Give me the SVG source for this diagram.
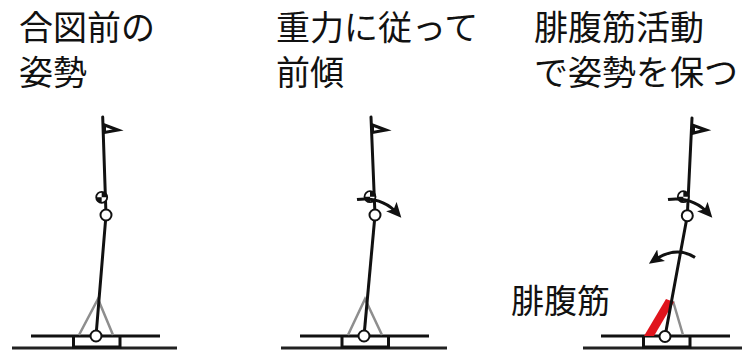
<svg xmlns="http://www.w3.org/2000/svg" width="742" height="352" viewBox="0 0 742 352">
  <style>
    .title { font-family: "Noto Sans CJK JP", "Noto Sans", sans-serif; font-size: 34px; fill: #111; }
    .label { font-family: "Noto Sans CJK JP", "Noto Sans", sans-serif; font-size: 33px; fill: #111; }
    .pole { stroke: #111; stroke-width: 3; fill: none; stroke-linecap: round; }
    .joint { stroke: #111; stroke-width: 2; fill: #fff; }
    .brace { stroke: #8e8e8e; stroke-width: 2.5; fill: none; }
    .deck { stroke: #111; stroke-width: 3; fill: none; }
    .floor { stroke: #222; stroke-width: 3; fill: none; }
    .flag { stroke: #111; stroke-width: 3; fill: #fff; stroke-linejoin: miter; }
    .turn { stroke: #111; stroke-width: 3; fill: none; marker-end: url(#head); }
  </style>
  <defs>
    <marker id="head" markerUnits="userSpaceOnUse" markerWidth="18" markerHeight="16" refX="10" refY="7" orient="auto">
      <path d="M0,0 L15,7 L0,14 L3.5,7 z" fill="#111"/>
    </marker>
    <!-- centre-of-mass symbol: quartered circle -->
    <g id="com">
      <circle r="5.5" fill="#fff" stroke="#111" stroke-width="1.8"/>
      <path d="M0,0 L0,-5.5 A5.5,5.5 0 0 1 5.5,0 z" fill="#111"/>
      <path d="M0,0 L0,5.5 A5.5,5.5 0 0 1 -5.5,0 z" fill="#111"/>
    </g>
  </defs>

  <!-- headings -->
  <g id="title-1">
    <text class="title" x="19" y="40">合図前の</text>
    <text class="title" x="19" y="85">姿勢</text>
  </g>
  <g id="title-2">
    <text class="title" x="276" y="40">重力に従って</text>
    <text class="title" x="276" y="85">前傾</text>
  </g>
  <g id="title-3">
    <text class="title" x="534" y="40">腓腹筋活動</text>
    <text class="title" x="534" y="85">で姿勢を保つ</text>
  </g>

  <!-- stance 1: upright -->
  <g id="figure-1">
    <line class="floor" x1="12" y1="348" x2="177" y2="348"/>
    <polyline class="deck" points="73.5,336 73.5,347 120,347 120,336"/>
    <line class="deck" x1="31" y1="336" x2="160" y2="336"/>
    <polyline class="brace" points="79,335 98,299 113,335"/>
    <line class="pole" x1="102.7" y1="117" x2="106" y2="215"/>
    <line class="pole" x1="106" y1="215" x2="96" y2="336"/>
    <polygon class="flag" points="104.5,125 118,130 104.5,132.5"/>
    <use href="#com" x="101.7" y="197.3"/>
    <circle class="joint" cx="106" cy="215" r="5.5"/>
    <circle class="joint" cx="96" cy="336" r="5.5"/>
  </g>

  <!-- stance 2: leaning under gravity -->
  <g id="figure-2">
    <line class="floor" x1="281" y1="348" x2="447" y2="348"/>
    <polyline class="deck" points="342,336 342,347 388.5,347 388.5,336"/>
    <line class="deck" x1="300" y1="336" x2="429" y2="336"/>
    <polyline class="brace" points="348,335 365,299 382,335"/>
    <line class="pole" x1="371" y1="117" x2="375" y2="215"/>
    <line class="pole" x1="375" y1="215" x2="364" y2="336"/>
    <polygon class="flag" points="372.5,125 386,130 372.5,132.5"/>
    <use href="#com" x="370" y="196.7"/>
    <circle class="joint" cx="375" cy="215" r="5.5"/>
    <circle class="joint" cx="364" cy="336" r="5.5"/>
  </g>

  <!-- stance 3: held by the calf muscle -->
  <g id="figure-3">
    <line class="floor" x1="583" y1="348" x2="742" y2="348"/>
    <polyline class="deck" points="643.5,336 643.5,347 690,347 690,336"/>
    <line class="deck" x1="601" y1="336" x2="730" y2="336"/>
    <line class="brace" x1="673" y1="301" x2="683" y2="335"/>
    <polygon id="calf-muscle" points="644,336 666,299 674,302 654,336" fill="#e0141c"/>
    <line class="pole" x1="692" y1="118" x2="687.3" y2="215.7"/>
    <line class="pole" x1="687.3" y1="215.7" x2="665" y2="336.5"/>
    <polygon class="flag" points="693.5,125.5 706,130 693.5,133"/>
    <use href="#com" x="683.3" y="196.7"/>
    <circle class="joint" cx="687.3" cy="215.7" r="5.5"/>
    <circle class="joint" cx="665" cy="336.5" r="5.5"/>
    <text class="label" x="511" y="313">腓腹筋</text>
  </g>

  <!-- rotation arrows -->
  <g id="connectors">
    <path class="turn" d="M357,199.5 Q382,196 398,214"/>
    <path class="turn" d="M668,199.5 Q693,196 709,214"/>
    <path class="turn" d="M695,257.5 Q676,245 653,261"/>
  </g>
</svg>
